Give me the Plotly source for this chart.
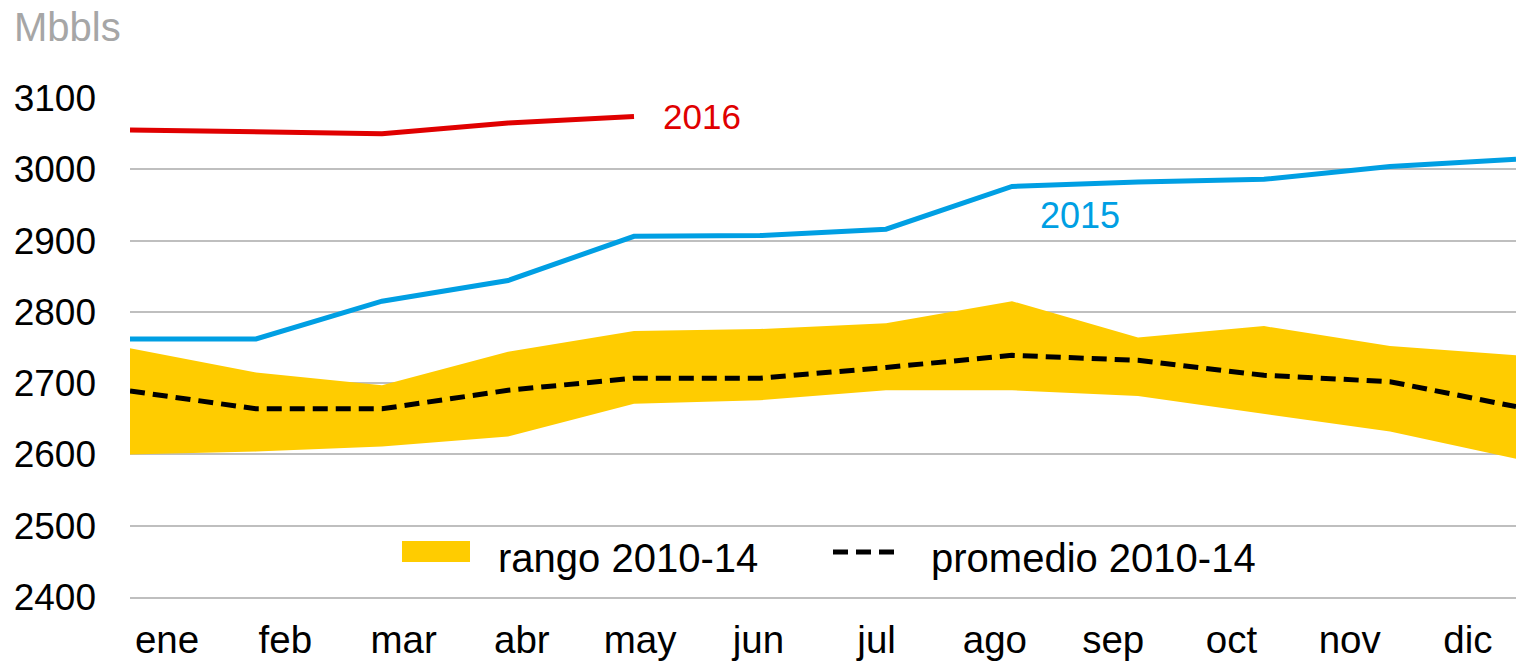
import plotly.graph_objects as go

months = ["ene", "feb", "mar", "abr", "may", "jun", "jul", "ago", "sep", "oct", "nov", "dic"]
range_low = [2600, 2604, 2611, 2625, 2671, 2676, 2690, 2690, 2682, 2657, 2632, 2594]
range_high = [2749, 2715, 2697, 2744, 2773, 2776, 2784, 2815, 2764, 2780, 2752, 2739]
avg_2010_14 = [2689, 2664, 2664, 2690, 2707, 2707, 2722, 2739, 2732, 2711, 2702, 2667]
y2015 = [2762, 2762, 2815, 2844, 2906, 2907, 2916, 2976, 2982, 2986, 3004, 3014]
y2016 = [3055, 3053, 3050, 3065, 3074]
y_ticks = [2400, 2500, 2600, 2700, 2800, 2900, 3000, 3100]

YELLOW = "#FFCC00"
BLUE = "#009FE3"
RED = "#E00000"
GRID = "#BFBFBF"
FONT = "Liberation Sans, Arial, sans-serif"

fig = go.Figure()
fig.add_trace(go.Scatter(x=months, y=range_low, mode="lines",
                         line=dict(width=0, color=YELLOW), showlegend=False, hoverinfo="skip"))
fig.add_trace(go.Scatter(x=months, y=range_high, mode="lines", fill="tonexty", fillcolor=YELLOW,
                         line=dict(width=0, color=YELLOW), name="rango 2010-14", showlegend=False))
fig.add_trace(go.Scatter(x=months, y=avg_2010_14, mode="lines",
                         line=dict(color="black", width=5, dash="15px,8px"),
                         name="promedio 2010-14", showlegend=False))
fig.add_trace(go.Scatter(x=months, y=y2015, mode="lines",
                         line=dict(color=BLUE, width=5), name="2015", showlegend=False))
fig.add_trace(go.Scatter(x=months[:len(y2016)], y=y2016, mode="lines",
                         line=dict(color=RED, width=5), name="2016", showlegend=False))
# carrier trace for the month label axis
fig.add_trace(go.Scatter(x=months, y=[None] * len(months), xaxis="x2", mode="lines",
                         showlegend=False, hoverinfo="skip"))

L, R, T, B = 130, 0, 98, 64
W, H = 1516, 661
pw, ph = W - L - R, H - T - B

def px_x(p):
    return (p - L) / pw

def px_y(p):
    return (H - B - p) / ph

fig.update_layout(
    width=W, height=H,
    margin=dict(l=L, r=R, t=T, b=B),
    paper_bgcolor="white", plot_bgcolor="white",
    font=dict(family=FONT, size=36, color="black"),
    xaxis=dict(type="category", range=[0, len(months) - 1], showticklabels=False,
               showgrid=False, zeroline=False, showline=True, linecolor=GRID, linewidth=2,
               ticks=""),
    xaxis2=dict(type="category", overlaying="x", side="bottom", anchor="y",
                range=[-0.313, 11.406], showgrid=False, zeroline=False, showline=False,
                ticks="", tickfont=dict(size=38.5, color="black"), ticklabelstandoff=16),
    yaxis=dict(range=[y_ticks[0], y_ticks[-1]], tickvals=y_ticks, showgrid=True,
               gridcolor=GRID, gridwidth=2, zeroline=False, showline=False, ticks="",
               tickfont=dict(size=37, color="black"), ticklabelstandoff=33),
    annotations=[
        dict(text="Mbbls", xref="paper", yref="paper", x=px_x(12), y=px_y(27),
             xanchor="left", yanchor="middle", showarrow=False,
             font=dict(size=40, color="#A6A6A6")),
        dict(text="2016", xref="x", yref="y", x=len(y2016) - 1, y=y2016[-1], xshift=27,
             xanchor="left", yanchor="middle", showarrow=False, font=dict(size=35, color=RED)),
        dict(text="2015", xref="x", yref="y", x=7, y=2935, xshift=26,
             xanchor="left", yanchor="middle", showarrow=False, font=dict(size=36, color=BLUE)),
        dict(text="rango 2010-14", xref="paper", yref="paper", x=px_x(496), y=px_y(558),
             xanchor="left", yanchor="middle", showarrow=False, font=dict(size=40)),
        dict(text="promedio 2010-14", xref="paper", yref="paper", x=px_x(929), y=px_y(558),
             xanchor="left", yanchor="middle", showarrow=False, font=dict(size=40)),
    ],
    shapes=[
        dict(type="rect", xref="paper", yref="paper", x0=px_x(402), x1=px_x(470),
             y0=px_y(562), y1=px_y(541), fillcolor=YELLOW, line=dict(width=0)),
        dict(type="line", xref="paper", yref="paper", x0=px_x(833), x1=px_x(897),
             y0=px_y(552), y1=px_y(552), line=dict(color="black", width=5, dash="15px,8px")),
    ],
)

fig.write_html("out.html", config={"displayModeBar": False},
               post_script="document.body.style.margin='0';")
